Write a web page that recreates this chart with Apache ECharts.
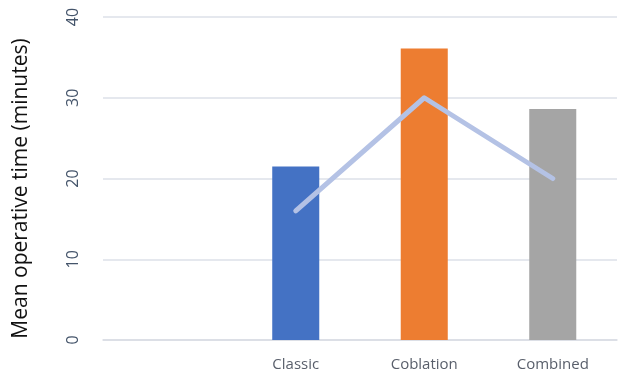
<!DOCTYPE html>
<html>
<head>
<meta charset="utf-8">
<script src="https://cdn.jsdelivr.net/npm/echarts@6/dist/echarts.min.js"></script>
<style>
  html, body { margin: 0; padding: 0; background: #fff; }
  #container { width: 624px; height: 381px; }
</style>
</head>
<body>
<div id="container"></div>
<script>
// categories (the first slot is empty in the original figure)
var categories = ['', 'Classic', 'Coblation', 'Combined'];
// bar heights: mean operative time
var barValues = ['-', 21.5, 36.1, 28.6];
// line overlay values
var lineValues = ['-', 16, 30, 20];
var barColors = ['#4472C4', '#4472C4', '#ED7D31', '#A5A5A5'];

var myChart = echarts.init(document.getElementById('container'));
myChart.setOption({
    animation: false,
    textStyle: { fontFamily: '"Open Sans", sans-serif' },
    grid: { left: 103, right: 7, top: 17, bottom: 41 },
    xAxis: {
        type: 'category',
        data: categories,
        axisLine: { lineStyle: { color: '#D9DCE3', width: 1.5 } },
        axisTick: { show: false },
        axisLabel: { color: '#595F6B', fontSize: 15, margin: 17 }
    },
    yAxis: {
        type: 'value',
        min: 0,
        max: 40,
        interval: 10,
        name: 'Mean operative time (minutes)',
        nameLocation: 'middle',
        nameRotate: 90,
        nameGap: 71,
        nameTextStyle: { color: '#111', fontSize: 21, padding: [0, 20, 0, 0] },
        axisLine: { show: false },
        axisTick: { show: false },
        axisLabel: { rotate: 90, color: '#44546A', fontSize: 16, margin: 22 },
        splitLine: { lineStyle: { color: '#DDE1E8', width: 1.5 } }
    },
    series: [
        {
            type: 'bar',
            data: barValues,
            barWidth: '36.6%',
            itemStyle: {
                color: function (p) { return barColors[p.dataIndex]; }
            }
        },
        {
            type: 'line',
            data: lineValues,
            symbol: 'none',
            lineStyle: { color: '#B4C2E5', width: 5, cap: 'round', join: 'round' },
            z: 5
        }
    ]
});
</script>
</body>
</html>
